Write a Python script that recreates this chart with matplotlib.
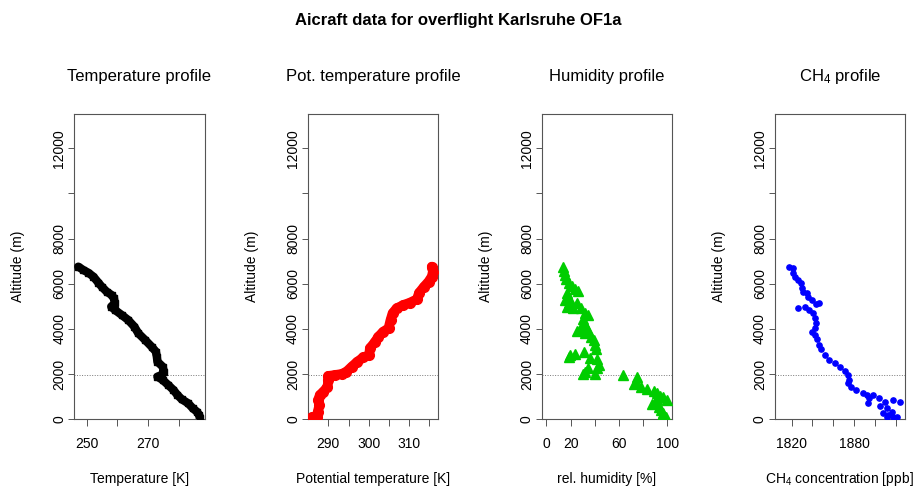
import matplotlib
matplotlib.use('Agg')
import matplotlib.pyplot as plt

plt.rcParams['font.family'] = ['Liberation Sans', 'DejaVu Sans']
plt.rcParams['mathtext.fontset'] = 'custom'
plt.rcParams['mathtext.rm'] = 'Liberation Sans'
plt.rcParams['mathtext.it'] = 'Liberation Sans:italic'

# ── Data ──────────────────────────────────────────────────────────
temp_K = [247.3, 248.9, 250.5, 252.2, 253.8, 254.9, 256.5, 258.1, 258.9, 259.1,
          258.0, 259.2, 261.4, 263.5, 265.5, 266.8, 269.0, 271.1, 272.5, 272.8,
          273.0, 274.7, 275.1, 274.4, 273.0, 274.7, 276.5, 278.2, 279.5, 280.9,
          283.0, 284.5, 285.8, 286.6, 286.8]
temp_alt = [6760, 6612, 6494, 6317, 6052, 5874, 5653, 5505, 5358, 5136,
            4989, 4841, 4620, 4398, 4103, 3808, 3513, 3218, 2996, 2775,
            2553, 2332, 2111, 1963, 1889, 1742, 1520, 1299, 1077, 886,
            708, 487, 339, 192, 44]

theta_K = [285.9, 287.1, 287.4, 287.8, 287.5, 287.9, 288.8, 289.8, 290.0, 290.0,
           291.7, 293.3, 294.5, 295.8, 297.2, 298.7, 300.1, 300.3, 301.6, 302.4,
           303.6, 304.9, 305.4, 305.9, 306.9, 308.6, 310.2, 311.9, 312.5, 313.7,
           314.8, 315.6, 315.9, 315.6]
theta_alt = [89, 118, 339, 635, 856, 1077, 1225, 1446, 1742, 1919,
             1963, 2007, 2111, 2332, 2553, 2745, 2849, 3144, 3439, 3660,
             3882, 4030, 4398, 4694, 4915, 5063, 5166, 5314, 5609, 5874,
             6096, 6317, 6539, 6760]

rh_pct = [13.8, 14.9, 15.7, 16.6, 18.5, 21.3, 23.8, 26.0, 17.1, 18.5,
          15.7, 18.5, 25.4, 28.2, 17.1, 22.1, 32.3, 34.3, 30.4, 30.9,
          33.1, 34.3, 24.9, 27.6, 32.3, 36.5, 39.2, 40.6, 41.4, 31.5,
          19.9, 24.0, 18.5, 35.9, 42.0, 43.4, 42.0, 34.3, 32.3, 30.4,
          39.8, 63.5, 74.6, 73.8, 72.4, 77.9, 83.4, 89.0, 91.2, 93.9,
          96.7, 100.0, 91.7, 89.5, 87.6, 93.1, 94.5, 96.7, 95.9, 98.6]
rh_alt = [6760, 6583, 6391, 6199, 6052, 5904, 5757, 5697, 5579, 5358,
          5284, 5166, 5136, 4915, 4989, 4915, 4694, 4620, 4428, 4251,
          4103, 3956, 3911, 3985, 3808, 3660, 3513, 3291, 3100, 2996,
          2849, 2893, 2775, 2701, 2657, 2406, 2288, 2258, 2111, 2007,
          2007, 1963, 1860, 1668, 1565, 1446, 1328, 1269, 1151, 1033,
          1004, 856, 886, 782, 679, 561, 413, 266, 148, 89]

ch4_ppb = [1817.8, 1821.0, 1821.6, 1823.2, 1826.4, 1828.7, 1829.6, 1831.2, 1835.1, 1836.0,
           1839.2, 1843.4, 1846.6, 1826.4, 1832.8, 1837.0, 1840.8, 1842.4, 1843.4, 1842.4,
           1839.2, 1842.4, 1844.7, 1846.6, 1847.9, 1852.1, 1856.2, 1861.7, 1866.5, 1871.3,
           1874.5, 1875.4, 1874.5, 1876.7, 1881.9, 1888.3, 1892.1, 1894.7, 1893.7, 1898.5,
           1904.3, 1917.1, 1924.2, 1909.7, 1905.0, 1911.3, 1908.2, 1913.0, 1916.2, 1911.3,
           1917.8, 1921.0]
ch4_alt = [6760, 6686, 6465, 6317, 6170, 6022, 5801, 5653, 5579, 5402,
           5284, 5107, 5166, 4915, 4989, 4841, 4694, 4472, 4251, 4030,
           3882, 3734, 3542, 3291, 3100, 2849, 2627, 2480, 2332, 2155,
           1963, 1742, 1594, 1417, 1299, 1181, 1077, 959, 738, 1077,
           930, 856, 782, 782, 590, 487, 266, 192, 339, 118,
           118, 89]

bl_height = 1950   # dotted reference line

y_ticks = [0, 2000, 4000, 6000, 8000, 10000, 12000]
y_labels = ['0', '2000', '4000', '6000', '8000', '', '12000']

# ── Figure ─────────────────────────────────────────────────────────
W, H = 917, 488
fig = plt.figure(figsize=(W / 100, H / 100), dpi=100, facecolor='white')

lefts = [74, 307.7, 541.6, 774.6]
box_w, box_top, box_bot = 130.5, 114, 419.3

panels = [
    dict(x=temp_K, y=temp_alt, color='black', kind='line', marker='s', ms=4.8, lw=6,
         xlim=(245.9, 288.3), xticks=[250, 260, 270, 280], xlabels=['250', '', '270', ''],
         title='Temperature profile', xlabel='Temperature [K]'),
    dict(x=theta_K, y=theta_alt, color='#FF0000', kind='line', marker='o', ms=7, lw=7,
         xlim=(284.9, 317.2), xticks=[290, 295, 300, 305, 310, 315],
         xlabels=['290', '', '300', '', '310', ''],
         title='Pot. temperature profile', xlabel='Potential temperature [K]'),
    dict(x=rh_pct, y=rh_alt, color='#00CD00', kind='pts', marker='^', ms=6.5,
         xlim=(-4, 104), xticks=[0, 20, 40, 60, 80, 100],
         xlabels=['0', '20', '', '60', '', '100'],
         title='Humidity profile', xlabel='rel. humidity [%]'),
    dict(x=ch4_ppb, y=ch4_alt, color='#0000FF', kind='pts', marker='o', ms=3.8,
         xlim=(1803.6, 1929.0), xticks=[1820, 1840, 1860, 1880, 1900, 1920],
         xlabels=['1820', '', '', '1880', '', ''],
         title=r'CH$_4$ profile', xlabel=r'CH$_4$ concentration [ppb]'),
]

AX_COL = '#555555'

for left, p in zip(lefts, panels):
    ax = fig.add_axes([left / W, (H - box_bot) / H, box_w / W, (box_bot - box_top) / H])

    if p['kind'] == 'line':
        ax.plot(p['x'], p['y'], '-', color=p['color'], lw=p['lw'],
                solid_capstyle='round', solid_joinstyle='round', zorder=3)
        ax.plot(p['x'], p['y'], linestyle='none', marker=p['marker'], ms=p['ms'],
                color=p['color'], zorder=3)
    else:
        ax.plot(p['x'], p['y'], linestyle='none', marker=p['marker'], ms=p['ms'],
                color=p['color'], mec=p['color'], zorder=3)

    ax.axhline(bl_height, color='#777777', lw=0.7, ls=(0, (1, 1.6)), zorder=2)

    ax.set_xlim(*p['xlim'])
    ax.set_ylim(0, 13520)
    ax.set_xticks(p['xticks'], p['xlabels'])
    ax.set_yticks(y_ticks, y_labels)

    ax.tick_params(axis='x', length=5, width=0.7, color=AX_COL, labelsize=10, pad=7.5)
    ax.tick_params(axis='y', length=4, width=0.7, color=AX_COL, labelsize=10, pad=1.5)
    for lab in ax.get_yticklabels():
        lab.set_rotation(90)
        lab.set_va('center')

    for sp in ax.spines.values():
        sp.set_color(AX_COL)
        sp.set_linewidth(0.8)

    ax.text(0.5, 1 + 37 / (box_bot - box_top), p['title'], transform=ax.transAxes,
            ha='center', va='center', fontsize=12)
    ax.text(0.5, -60 / (box_bot - box_top), p['xlabel'], transform=ax.transAxes,
            ha='center', va='center', fontsize=10)
    ax.text(-56 / box_w, 0.5, 'Altitude (m)', transform=ax.transAxes,
            ha='center', va='center', rotation=90, fontsize=10)

fig.text(0.5, 1 - 20 / H, 'Aicraft data for overflight Karlsruhe OF1a',
         ha='center', va='center', fontsize=12, fontweight='bold')

fig.savefig('out.png', dpi=100, facecolor='white')
